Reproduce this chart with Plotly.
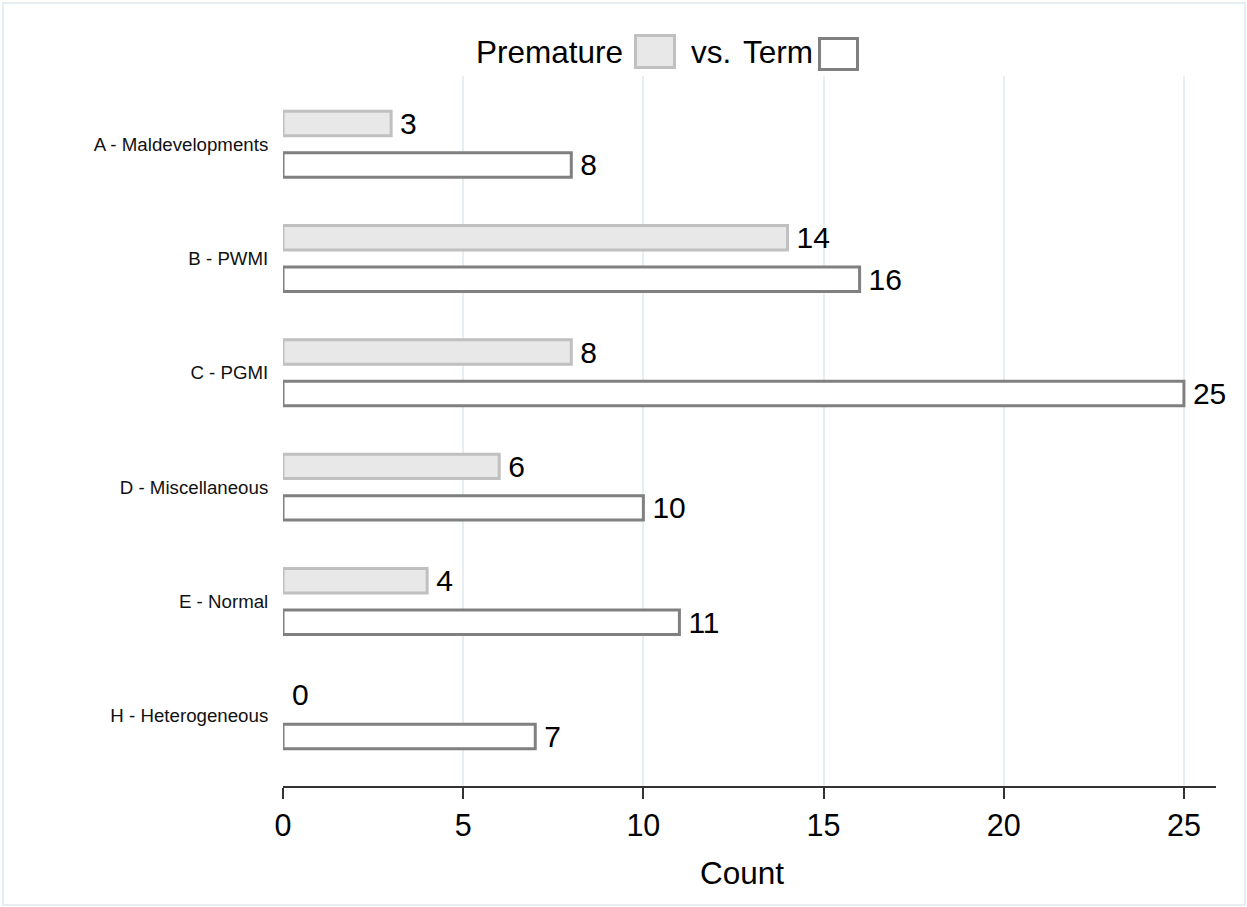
import plotly.graph_objects as go

categories = ["A - Maldevelopments", "B - PWMI", "C - PGMI",
              "D - Miscellaneous", "E - Normal", "H - Heterogeneous"]
premature = [3, 14, 8, 6, 4, 0]
term = [8, 16, 25, 10, 11, 7]
x_ticks = [0, 5, 10, 15, 20, 25]

FONT = "Arial, Liberation Sans, sans-serif"
BW = 0.214
HALF = 0.1815

fig = go.Figure()
fig.add_trace(go.Bar(
    y=categories, x=premature, orientation="h", name="Premature",
    width=BW, offset=-HALF - BW / 2,
    marker=dict(color="#e8e8e8",
                line=dict(color="#c0c0c0", width=[3 if v > 0 else 0 for v in premature])),
    text=["\u2009" + str(v) for v in premature], textposition="outside",
    textfont=dict(size=30, color="black", family=FONT),
    constraintext="none", cliponaxis=False, showlegend=False,
))
fig.add_trace(go.Bar(
    y=categories, x=term, orientation="h", name="Term",
    width=BW, offset=HALF - BW / 2,
    marker=dict(color="white",
                line=dict(color="#808080", width=[3 if v > 0 else 0 for v in term])),
    text=["\u2009" + str(v) for v in term], textposition="outside",
    textfont=dict(size=30, color="black", family=FONT),
    constraintext="none", cliponaxis=False, showlegend=False,
))

W, H = 1247, 907
L, R, T, B = 283, 31, 76, 121
pw, ph = W - L - R, H - T - B


def px(x):
    return (x - L) / pw


def py(y):
    return (H - B - y) / ph


fig.update_layout(
    width=W, height=H,
    margin=dict(l=L, r=R, t=T, b=B, pad=0),
    paper_bgcolor="white", plot_bgcolor="white",
    font=dict(family=FONT, color="black"),
    barmode="overlay",
    xaxis=dict(
        range=[0, 25.89], tickvals=x_ticks, ticktext=[str(t) for t in x_ticks],
        showgrid=True, gridcolor="#e6eef1", gridwidth=2, zeroline=False,
        showline=True, linecolor="#333333", linewidth=2,
        ticks="outside", ticklen=11, tickwidth=2, tickcolor="#333333",
        tickfont=dict(size=30.5, color="black"),
    ),
    yaxis=dict(
        type="category", categoryorder="array", categoryarray=categories,
        range=[5.615, -0.597], showgrid=False, zeroline=False, showline=False,
        ticks="outside", ticklen=10, tickcolor="rgba(0,0,0,0)",
        tickfont=dict(size=18.7, color="#111111"),
    ),
    shapes=[
        dict(type="rect", xref="paper", yref="paper",
             x0=px(635.5), x1=px(674.5), y0=py(67.5), y1=py(35.5),
             fillcolor="#e8e8e8", line=dict(color="#c0c0c0", width=3)),
        dict(type="rect", xref="paper", yref="paper",
             x0=px(819.5), x1=px(857.5), y0=py(69.5), y1=py(38.5),
             fillcolor="white", line=dict(color="#808080", width=3)),
        dict(type="rect", xref="paper", yref="paper",
             x0=px(3), x1=px(1245), y0=py(905), y1=py(3),
             fillcolor="rgba(0,0,0,0)", line=dict(color="#e6eef2", width=2),
             layer="below"),
    ],
    annotations=[
        dict(text="Premature", xref="paper", yref="paper", x=px(625), y=py(52),
             xanchor="right", yanchor="middle", showarrow=False,
             font=dict(size=31.5, color="black")),
        dict(text="vs.", xref="paper", yref="paper", x=px(689), y=py(52),
             xanchor="left", yanchor="middle", showarrow=False,
             font=dict(size=31.5, color="black")),
        dict(text="Term", xref="paper", yref="paper", x=px(741), y=py(52),
             xanchor="left", yanchor="middle", showarrow=False,
             font=dict(size=31.5, color="black")),
        dict(text="Count", xref="paper", yref="paper", x=px(741.5), y=py(873),
             xanchor="center", yanchor="middle", showarrow=False,
             font=dict(size=31.5, color="black")),
    ],
)

fig.write_html("out.html", config={"displayModeBar": False},
               post_script="document.body.style.margin='0';")
